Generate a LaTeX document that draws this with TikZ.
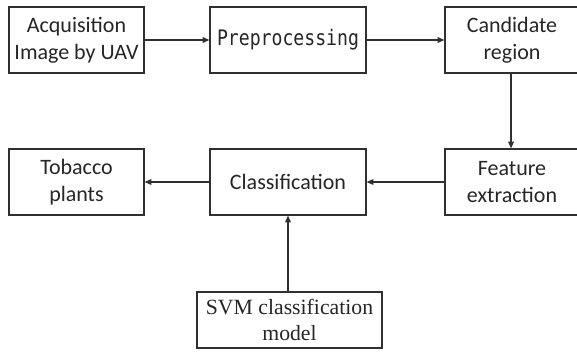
\documentclass[tikz,border=0pt]{standalone}
\usepackage{fontspec}
\setmainfont{Carlito}
\newfontfamily\monofont[FakeStretch=0.85]{DejaVu Sans Mono}
\newfontfamily\timesfont{Liberation Serif}
\usetikzlibrary{arrows.meta}
\definecolor{ink}{HTML}{262626}
\definecolor{edge}{HTML}{303030}
\begin{document}
\begin{tikzpicture}[x=0.75pt,y=-0.75pt,
  box/.style={draw=edge,line width=0.9pt,fill=white,text=ink,align=center,
    inner sep=0pt,font=\fontsize{16.5}{20}\selectfont},
  flow/.style={draw=edge,line width=0.8pt,-{Triangle[length=5pt,width=4.2pt]}}]
\useasboundingbox (0,0) rectangle (577,360);
% upper row
\node[box,minimum width=135*0.75pt,minimum height=66*0.75pt] (acq) at (76.5,40) {Acquisition\\Image by UAV};
\node[box,minimum width=156*0.75pt,minimum height=66*0.75pt,font=\monofont\fontsize{16}{19}\selectfont] (pre) at (288,40) {Preprocessing};
\node[box,minimum width=134*0.75pt,minimum height=66*0.75pt] (cand) at (512,40) {Candidate\\region};
% lower row
\node[box,minimum width=135*0.75pt,minimum height=66*0.75pt] (tob) at (76.5,182) {Tobacco\\plants};
\node[box,minimum width=156*0.75pt,minimum height=66*0.75pt] (cls) at (288,182) {Classification};
\node[box,minimum width=134*0.75pt,minimum height=66*0.75pt] (feat) at (512,182) {Feature\\extraction};
% classifier model
\node[box,minimum width=185*0.75pt,minimum height=56*0.75pt,font=\timesfont\fontsize{16.3}{19.5}\selectfont] (svm) at (289.5,320) {SVM classification\\model};
% connectors
\draw[flow] (acq) -- (pre);
\draw[flow] (pre) -- (cand);
\draw[flow] (cand.south -| 511,0) -- (feat.north -| 511,0);
\draw[flow] (feat) -- (cls);
\draw[flow] (cls) -- (tob);
\draw[flow] (svm.north -| cls.south) -- (cls.south);
\end{tikzpicture}
\end{document}
